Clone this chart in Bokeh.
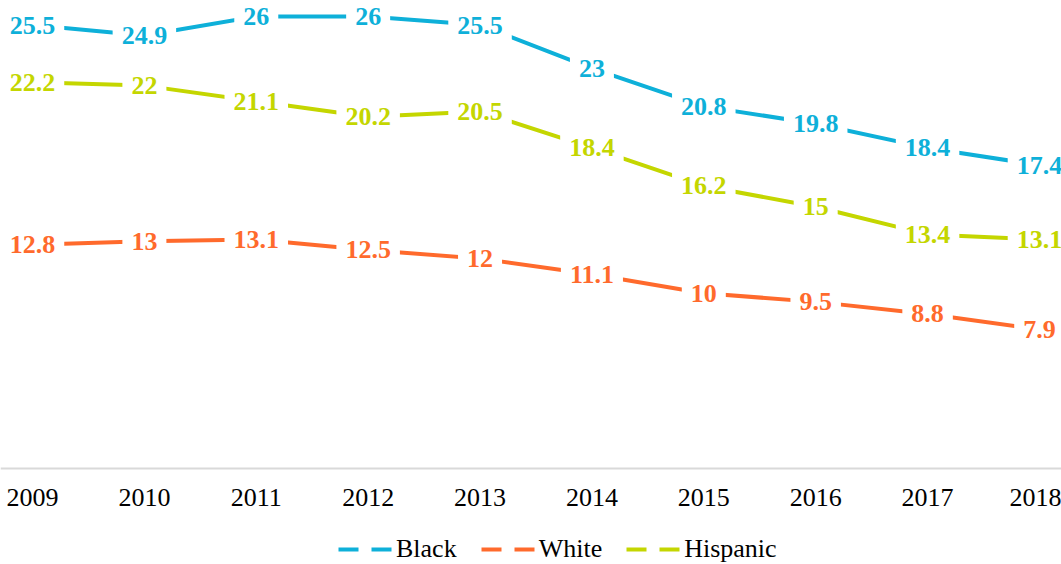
from bokeh.plotting import figure
from bokeh.models import Range1d, FixedTicker, Legend, LegendItem, ColumnDataSource
from bokeh.core.properties import value
from bokeh.embed import file_html
from bokeh.resources import INLINE

years = [2009, 2010, 2011, 2012, 2013, 2014, 2015, 2016, 2017, 2018]
black = [25.5, 24.9, 26, 26, 25.5, 23, 20.8, 19.8, 18.4, 17.4]
white = [12.8, 13, 13.1, 12.5, 12, 11.1, 10, 9.5, 8.8, 7.9]
hispanic = [22.2, 22, 21.1, 20.2, 20.5, 18.4, 16.2, 15, 13.4, 13.1]
series_names = ["Black", "White", "Hispanic"]
colors = ["#0EB0D9", "#FF6A2C", "#C4D600"]

p = figure(width=1061, height=564,
           x_range=Range1d(2008.714, 2018.197), y_range=Range1d(-5.68, 26.92),
           output_backend="svg", toolbar_location=None,
           min_border_left=0, min_border_right=0, min_border_top=0, min_border_bottom=0)
p.yaxis.visible = False
p.grid.visible = False
p.outline_line_color = None
p.background_fill_color = "white"

ax = p.xaxis[0]
ax.fixed_location = -0.127
ax.ticker = FixedTicker(ticks=years)
ax.major_label_overrides = {y: str(y) for y in years}
ax.axis_line_color = "#d9d9d9"
ax.axis_line_width = 2
ax.major_tick_line_color = None
ax.minor_tick_line_color = None
ax.major_tick_out = 0
ax.major_label_standoff = 21
ax.major_label_text_font = "Liberation Serif"
ax.major_label_text_font_size = "26px"
ax.major_label_text_color = "black"

items = []
for name, vals, col in zip(series_names, [black, white, hispanic], colors):
    p.line(years, vals, line_color=col, line_width=4)
    dummy = p.line([years[0]], [vals[0]], line_color=col, line_width=4, line_dash="20 13")
    items.append(LegendItem(label=name, renderers=[dummy]))

for vals, col in zip([black, white, hispanic], colors):
    src = ColumnDataSource(dict(x=years, y=vals, t=[f"{v:g}" for v in vals]))
    p.text(x="x", y="y", text="t", source=src, text_align="center", text_baseline="middle",
           text_font=value("Liberation Serif"), text_font_style="bold", text_font_size="26px",
           text_color=col, background_fill_color="white", padding=9)

legend = Legend(items=items, orientation="horizontal", location=(338, 0),
                glyph_width=54, glyph_height=20, label_standoff=4, spacing=24,
                label_text_font="Liberation Serif", label_text_font_size="26px",
                label_text_color="black", label_height=20,
                border_line_color=None, background_fill_alpha=0, padding=2, margin=0)
p.add_layout(legend, "center")

open("out.html", "w").write(file_html(p, INLINE))
